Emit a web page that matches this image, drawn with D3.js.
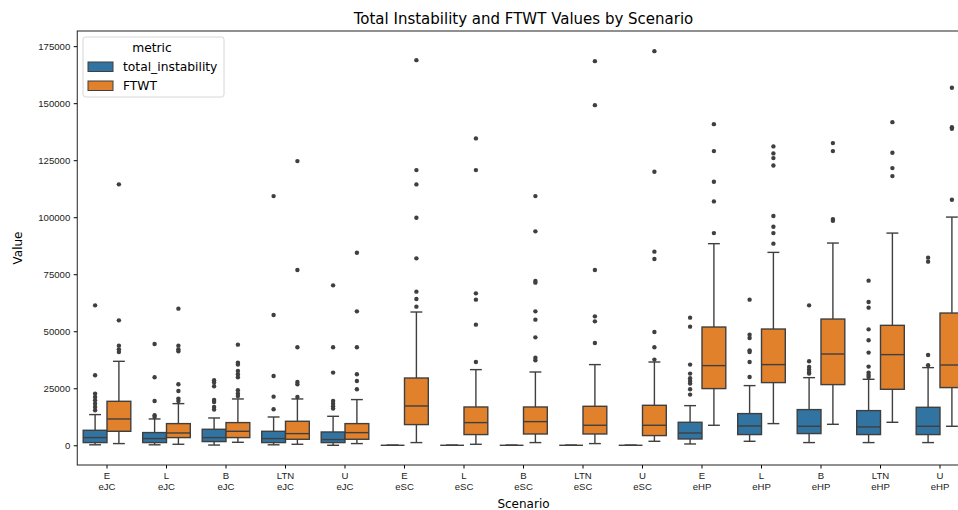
<!DOCTYPE html>
<html>
<head>
<meta charset="utf-8">
<script src="https://cdn.jsdelivr.net/npm/d3@7"></script>
<style>
  body { margin: 0; background: #fff; }
  svg { font-family: "DejaVu Sans", sans-serif; }
</style>
</head>
<body>
<svg id="chart" width="958" height="510"></svg>
<script>
// scenario categories (two-line tick labels)
var scenarios = ["E\neJC", "L\neJC", "B\neJC", "LTN\neJC", "U\neJC",
                 "E\neSC", "L\neSC", "B\neSC", "LTN\neSC", "U\neSC",
                 "E\neHP", "L\neHP", "B\neHP", "LTN\neHP", "U\neHP"];
var metrics = ["total_instability", "FTWT"];
var yTicks = [0, 25000, 50000, 75000, 100000, 125000, 150000, 175000];

// [whisker low, q1, median, q3, whisker high]
var instabilityStats = [
    [200, 1180, 3370, 6570, 13450],
    [200, 1180, 2930, 5570, 11530],
    [100, 1620, 3370, 7010, 11970],
    [200, 1180, 2930, 6130, 12400],
    [0, 1180, 2500, 5830, 12710],
    [0, 0, 0, 0, 0],
    [0, 0, 0, 0, 0],
    [0, 0, 0, 0, 0],
    [0, 0, 0, 0, 0],
    [0, 0, 0, 0, 0],
    [570, 2760, 5390, 10080, 17380],
    [1750, 4690, 8480, 13890, 26160],
    [1180, 5130, 8330, 15640, 29650],
    [1180, 4690, 8040, 15200, 28930],
    [1180, 4690, 8330, 16650, 34050]
];
var instabilityOutliers = [
    [61360, 30680, 22650, 21170, 19720, 18260, 16800, 15340],
    [44400, 29800, 19420, 13150, 12400],
    [28490, 27470, 25860, 19860, 18980, 16800, 15650],
    [109260, 57110, 30370, 21330, 15780],
    [70120, 42950, 31860, 19420, 18260, 17090, 16070],
    [], [], [], [], [],
    [55960, 52010, 35370, 31420, 29360, 28180, 27040, 24540, 22220],
    [63860, 48500, 47030, 41630, 40900, 36510, 29930],
    [61360, 36810, 34320, 33170, 32130, 31420],
    [72180, 62810, 60350, 50840, 46020, 40630, 34490, 31860, 30810, 29930],
    [82260, 80510, 39580, 35060]
];

var ftwtStats = [
    [740, 6130, 11530, 19280, 36810],
    [440, 3370, 5390, 9500, 18260],
    [1310, 3370, 6130, 9940, 20310],
    [440, 2630, 5110, 10520, 20310],
    [740, 2630, 5550, 9500, 20030],
    [1180, 9070, 17230, 29490, 58430],
    [440, 4690, 9940, 16790, 33170],
    [1180, 4950, 10370, 16790, 32130],
    [740, 4950, 8770, 17090, 35370],
    [1750, 4250, 8770, 17530, 36510],
    [8770, 24850, 34930, 51850, 88400],
    [9500, 27480, 35370, 50970, 84580],
    [9200, 26600, 40020, 55350, 88670],
    [10080, 24540, 39750, 52590, 93040],
    [8330, 25290, 35190, 57980, 100060]
];
var ftwtOutliers = [
    [114400, 54780, 43690, 42070, 40900],
    [59900, 43690, 42070, 41200, 26730, 23800, 20460, 19420],
    [44130, 36240, 35370, 32560, 31120, 29800, 24100, 22650, 21600],
    [124600, 76830, 42950, 27740, 26730, 21170],
    [84450, 58730, 42950, 31120, 28180, 24540],
    [168870, 120650, 114390, 99790, 81960, 67360, 64120, 60790],
    [134550, 120650, 66610, 63860, 52890, 36510],
    [109260, 93790, 72000, 71300, 58730, 55090, 47330, 38430, 37300],
    [168430, 149140, 76830, 56540, 54340, 44830],
    [172810, 119920, 84890, 81650, 49660, 42950, 37560],
    [140810, 128980, 115570, 106940, 93040],
    [131040, 127970, 125910, 122700, 100500, 95830, 93040, 88400],
    [132500, 128980, 99180, 98450],
    [141690, 128240, 121530, 118020],
    [156770, 139500, 138800, 107670]
];

var colors = ["#3274a1", "#e1812c"];
var edge = "#3f3f3f";

var svg = d3.select("#chart");
var margin = {left: 77.25, right: 969.75, top: 31, bottom: 465};

var x = d3.scaleBand().domain(scenarios).range([margin.left, margin.right]);
var hue = d3.scaleBand().domain(metrics)
    .range([x.bandwidth() * 0.1, x.bandwidth() * 0.9]);
var y = d3.scaleLinear().domain([-8650, 181650]).range([margin.bottom, margin.top]);
var color = d3.scaleOrdinal(metrics, colors);

// boxes
var series = [
    {metric: "total_instability", stats: instabilityStats, out: instabilityOutliers},
    {metric: "FTWT", stats: ftwtStats, out: ftwtOutliers}
];

series.forEach(function (s) {
    var bw = hue.bandwidth();
    var g = svg.append("g");
    scenarios.forEach(function (sc, i) {
        var st = s.stats[i];
        var x0 = x(sc) + hue(s.metric);
        var cx = x0 + bw / 2;
        var box = g.append("g");
        // whiskers
        box.append("line").attr("x1", cx).attr("x2", cx)
            .attr("y1", y(st[3])).attr("y2", y(st[4]));
        box.append("line").attr("x1", cx).attr("x2", cx)
            .attr("y1", y(st[1])).attr("y2", y(st[0]));
        box.append("line").attr("x1", cx - bw / 4).attr("x2", cx + bw / 4)
            .attr("y1", y(st[4])).attr("y2", y(st[4]));
        box.append("line").attr("x1", cx - bw / 4).attr("x2", cx + bw / 4)
            .attr("y1", y(st[0])).attr("y2", y(st[0]));
        box.selectAll("line").attr("stroke", edge).attr("stroke-width", 1.4);
        box.append("rect")
            .attr("x", x0).attr("width", bw)
            .attr("y", y(st[3])).attr("height", y(st[1]) - y(st[3]))
            .attr("fill", color(s.metric))
            .attr("stroke", edge).attr("stroke-width", 1.4);
        box.append("line").attr("x1", x0).attr("x2", x0 + bw)
            .attr("y1", y(st[2])).attr("y2", y(st[2]))
            .attr("stroke", edge).attr("stroke-width", 1.4);
        box.selectAll("circle").data(s.out[i]).enter().append("circle")
            .attr("cx", cx).attr("cy", function (d) { return y(d); })
            .attr("r", 2.2).attr("fill", edge);
    });
});

// axes
var xAxis = svg.append("g")
    .attr("transform", "translate(0," + margin.bottom + ")")
    .call(d3.axisBottom(x).tickSize(3.5).tickSizeOuter(0));
xAxis.selectAll(".tick text").each(function (d) {
    var t = d3.select(this).text(null);
    d.split("\n").forEach(function (part, k) {
        t.append("tspan").attr("x", 0).attr("dy", k === 0 ? "0.71em" : "1.15em").text(part);
    });
});
xAxis.selectAll(".tick text").attr("y", 7).style("font-size", "9.6px").attr("fill", "#222");

var yAxis = svg.append("g")
    .attr("transform", "translate(" + margin.left + ",0)")
    .call(d3.axisLeft(y).tickValues(yTicks).tickFormat(d3.format("d")).tickSize(3.5).tickSizeOuter(0));
yAxis.selectAll(".tick text").attr("x", -7).style("font-size", "9.6px").attr("fill", "#222");

svg.selectAll(".domain").remove();
svg.append("rect")
    .attr("x", margin.left).attr("y", margin.top)
    .attr("width", margin.right - margin.left).attr("height", margin.bottom - margin.top)
    .attr("fill", "none").attr("stroke", "#222").attr("stroke-width", 1);

// titles
svg.append("text")
    .attr("x", (margin.left + margin.right) / 2).attr("y", 24)
    .attr("text-anchor", "middle")
    .style("font-size", "15px")
    .text("Total Instability and FTWT Values by Scenario");

svg.append("text")
    .attr("x", (margin.left + margin.right) / 2).attr("y", 508)
    .attr("text-anchor", "middle")
    .style("font-size", "12px")
    .text("Scenario");

svg.append("text")
    .attr("transform", "translate(21.5," + (margin.top + margin.bottom) / 2 + ") rotate(-90)")
    .attr("text-anchor", "middle")
    .style("font-size", "12px")
    .text("Value");

// legend
var legend = svg.append("g").attr("transform", "translate(83,37)");
legend.append("rect")
    .attr("width", 141).attr("height", 60).attr("rx", 2.5)
    .attr("fill", "#fff").attr("fill-opacity", 0.8)
    .attr("stroke", "#ccc").attr("stroke-width", 0.8);
legend.append("text")
    .attr("x", 69).attr("y", 14.5)
    .attr("text-anchor", "middle")
    .style("font-size", "12.3px")
    .text("metric");
metrics.forEach(function (m, i) {
    var row = legend.append("g").attr("transform", "translate(5," + (25 + i * 19) + ")");
    row.append("rect")
        .attr("width", 25).attr("height", 9.5)
        .attr("fill", color(m)).attr("stroke", edge).attr("stroke-width", 1);
    row.append("text")
        .attr("x", 35).attr("y", 9.3)
        .style("font-size", "12.3px")
        .text(m);
});
</script>
</body>
</html>
